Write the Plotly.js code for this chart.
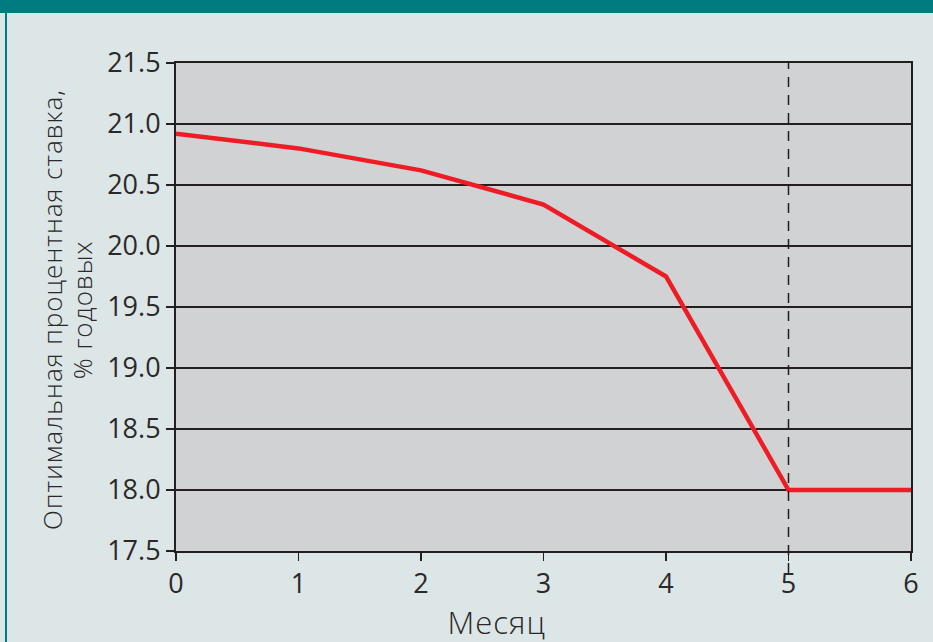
<!DOCTYPE html>
<html>
<head>
<meta charset="utf-8">
<script src="https://cdn.plot.ly/plotly-3.0.1.min.js"></script>
<style>
html,body{margin:0;padding:0;background:#dde6e7;}
#wrap{position:relative;width:933px;height:642px;background:#dde6e7;overflow:hidden;}
#topbar{position:absolute;left:0;top:0;width:933px;height:13px;background:#007b7f;}
#leftbar{position:absolute;left:5px;top:0;width:2px;height:642px;background:#007b7f;}
#chart{position:absolute;left:0;top:0;width:933px;height:642px;}
#chart .annotation-text{letter-spacing:1px;}
</style>
</head>
<body>
<div id="wrap">
<div id="chart"></div>
<div id="topbar"></div>
<div id="leftbar"></div>
</div>
<script>
const months = [0, 1, 2, 3, 4, 5, 6];
const rates = [20.92, 20.80, 20.62, 20.34, 19.75, 18.00, 18.00];
const yTicks = [17.5, 18.0, 18.5, 19.0, 19.5, 20.0, 20.5, 21.0, 21.5];
const yTickLabels = ['17.5', '18.0', '18.5', '19.0', '19.5', '20.0', '20.5', '21.0', '21.5'];
const xTicks = [0, 1, 2, 3, 4, 5, 6];
const markerMonth = 5;
const yTitleLines = ['Оптимальная процентная ставка,', '% годовых'];
const xTitle = 'Месяц';

const tickFont = {family: '"Liberation Sans Narrow", "Open Sans", sans-serif', size: 27, color: '#2b2829'};
const titleFont = {family: '"Open Sans", sans-serif', size: 26, color: '#2b2829', weight: 300};
const xTitleFont = {family: '"Open Sans", sans-serif', size: 31, color: '#2b2829', weight: 300};

const trace = {
  x: months, y: rates, type: 'scatter', mode: 'lines',
  line: {color: '#ee1c25', width: 4.5}, hoverinfo: 'skip'
};

const annotations = yTitleLines.map((t, i) => ({
  text: t, xref: 'paper', yref: 'paper', x: i === 0 ? -0.1687 : -0.128, y: 0.494,
  xanchor: 'center', yanchor: 'middle', textangle: -90, showarrow: false, font: titleFont
}));
annotations.push({
  text: xTitle, xref: 'paper', yref: 'paper', x: 0.4354, y: -0.1455,
  xanchor: 'center', yanchor: 'middle', showarrow: false, font: xTitleFont
});

const layout = {
  width: 933, height: 642,
  margin: {l: 176, r: 22, t: 63, b: 91},
  paper_bgcolor: '#dde6e7', plot_bgcolor: '#d1d2d4',
  showlegend: false,
  xaxis: {
    range: [0, 6], tickvals: xTicks, ticktext: xTicks.map(String),
    ticks: 'outside', ticklen: 8, tickwidth: 1.5, tickcolor: '#231f20',
    showline: true, linecolor: '#231f20', linewidth: 2, mirror: true,
    showgrid: false, zeroline: false, tickfont: tickFont
  },
  yaxis: {
    range: [17.5, 21.5], tickvals: yTicks, ticktext: yTickLabels,
    ticks: 'outside', ticklen: 8, tickwidth: 1.5, tickcolor: '#231f20',
    showline: true, linecolor: '#231f20', linewidth: 2, mirror: true,
    showgrid: true, gridcolor: '#231f20', gridwidth: 1.2, zeroline: false,
    tickfont: tickFont
  },
  annotations: annotations,
  shapes: [{
    type: 'line', xref: 'x', yref: 'paper', x0: markerMonth, x1: markerMonth, y0: -0.045, y1: 1,
    line: {color: '#231f20', width: 1.5, dash: '10px,8px'}
  }]
};

Plotly.newPlot('chart', [trace], layout, {displayModeBar: false, staticPlot: true});
</script>
</body>
</html>
